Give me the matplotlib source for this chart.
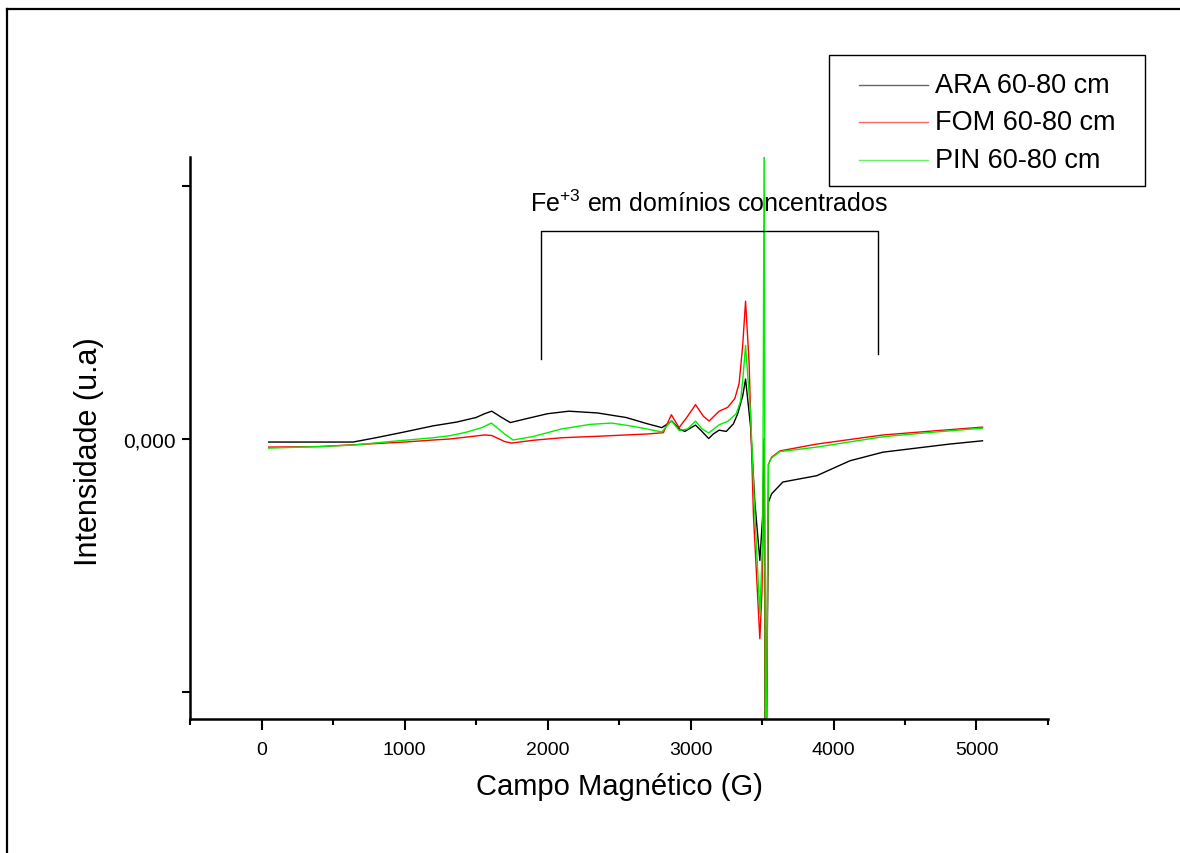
import matplotlib
matplotlib.use("Agg")
import matplotlib.pyplot as plt
from matplotlib.lines import Line2D
from matplotlib.patches import Rectangle
from matplotlib.ticker import MultipleLocator, FixedLocator

plt.rcParams['font.family'] = ['Liberation Sans', 'DejaVu Sans']
plt.rcParams['mathtext.default'] = 'regular'

# ---------------- data ----------------
series_names = ["ARA 60-80 cm", "FOM 60-80 cm", "PIN 60-80 cm"]
series_colors = ["#000000", "#FF0000", "#00EE00"]

ara_field = [50, 300, 640, 800, 1000, 1200, 1365, 1500, 1560, 1610, 1680, 1740, 1850,
             2000, 2150, 2350, 2550, 2700, 2800, 2840, 2870, 2920, 2960, 3035, 3080,
             3127, 3160, 3200, 3250, 3300, 3330, 3365, 3385, 3420, 3450, 3485, 3505,
             3515, 3525, 3545, 3567, 3646, 3883, 4115, 4346, 4579, 4812, 5042]
ara_int = [-0.012, -0.012, -0.012, 0.005, 0.028, 0.052, 0.067, 0.085, 0.1, 0.11, 0.085,
           0.065, 0.08, 0.1, 0.11, 0.103, 0.085, 0.06, 0.045, 0.06, 0.071, 0.04, 0.03,
           0.055, 0.03, 0.002, 0.02, 0.035, 0.03, 0.06, 0.1, 0.17, 0.237, 0.05, -0.25,
           -0.48, -0.3, 0.0, -1.6, -0.25, -0.217, -0.17, -0.145, -0.086, -0.052,
           -0.036, -0.02, -0.007]

fom_field = [50, 400, 800, 1000, 1200, 1316, 1500, 1556, 1610, 1700, 1750, 1900, 2100,
             2400, 2700, 2810, 2866, 2920, 2980, 3035, 3090, 3130, 3200, 3260, 3310,
             3340, 3365, 3385, 3410, 3440, 3485, 3500, 3515, 3525, 3545, 3567, 3625,
             3883, 4346, 4700, 5042]
fom_int = [-0.032, -0.03, -0.018, -0.012, -0.004, 0.0, 0.012, 0.016, 0.014, -0.01,
           -0.016, -0.005, 0.005, 0.012, 0.02, 0.025, 0.096, 0.045, 0.09, 0.136, 0.09,
           0.071, 0.11, 0.125, 0.16, 0.22, 0.37, 0.545, 0.3, -0.3, -0.79, -0.6, 0.0,
           -1.6, -0.1, -0.072, -0.047, -0.02, 0.016, 0.032, 0.047]

pin_field = [50, 400, 640, 900, 1200, 1316, 1433, 1540, 1608, 1700, 1760, 1900, 2100,
             2300, 2450, 2600, 2800, 2866, 2920, 2980, 3035, 3080, 3127, 3200, 3260,
             3320, 3350, 3368, 3385, 3420, 3450, 3485, 3505, 3515, 3525, 3545, 3567,
             3625, 3883, 4346, 4700, 5042]
pin_int = [-0.036, -0.03, -0.024, -0.01, 0.005, 0.013, 0.027, 0.045, 0.063, 0.02,
           -0.004, 0.01, 0.04, 0.058, 0.063, 0.05, 0.028, 0.073, 0.034, 0.04, 0.071,
           0.04, 0.024, 0.056, 0.07, 0.1, 0.15, 0.25, 0.37, 0.1, -0.3, -0.69, -0.4,
           1.2, -1.6, -0.1, -0.075, -0.05, -0.032, 0.009, 0.027, 0.043]

x_major_ticks = [0, 1000, 2000, 3000, 4000, 5000]
y_ticks = [-1.0, 0.0, 1.0]
y_tick_labels = ["", "0,000", ""]

annotation_text = r"Fe$^{+3}$ em domínios concentrados"
bracket_x = [1952, 4311]
bracket_top = 0.822
bracket_bottoms = [0.316, 0.336]

# ---------------- figure ----------------
W, H = 1180, 854
fig = plt.figure(figsize=(W / 100, H / 100), dpi=100)

def fx(px):
    return px / W

def fy(py):
    return 1 - py / H

ax = fig.add_axes([fx(190), fy(720), fx(1048) - fx(190), fy(158) - fy(720)])

fields = [ara_field, fom_field, pin_field]
ints = [ara_int, fom_int, pin_int]
for f, v, c, n in zip(fields, ints, series_colors, series_names):
    ax.plot(f, v, color=c, lw=1.0, label=n)

ax.set_xlim(-500, 5500)
ax.set_ylim(-1.107, 1.115)

for s in ['top', 'right']:
    ax.spines[s].set_visible(False)
for s in ['left', 'bottom']:
    ax.spines[s].set_linewidth(1.8)

ax.xaxis.set_major_locator(FixedLocator(x_major_ticks))
ax.xaxis.set_minor_locator(MultipleLocator(500))
ax.set_yticks(y_ticks)
ax.set_yticklabels(y_tick_labels)
ax.tick_params(axis='x', which='major', direction='out', length=8, width=1.5,
               labelsize=14, pad=8)
ax.tick_params(axis='x', which='minor', direction='out', length=4, width=1.5)
ax.tick_params(axis='y', which='major', direction='out', length=6, width=1.5,
               labelsize=15, pad=4)

ax.set_xlabel("Campo Magnético (G)", fontsize=21, labelpad=10)
ax.set_ylabel("Intensidade (u.a)", fontsize=22)
ax.yaxis.set_label_coords(fx(104), fy(452), transform=fig.transFigure)

# bracket annotation
ax.plot([bracket_x[0], bracket_x[0], bracket_x[1], bracket_x[1]],
        [bracket_bottoms[0], bracket_top, bracket_top, bracket_bottoms[1]],
        color='black', lw=1.0, clip_on=False)
ax.text(sum(bracket_x) / 2, bracket_top + 0.06, annotation_text, fontsize=18,
        ha='center', va='bottom')

# manual legend (box in figure coordinates)
fig.patches.append(Rectangle((fx(829), fy(187)), fx(1145) - fx(829), fy(56) - fy(187),
                             transform=fig.transFigure, fill=True, facecolor='white',
                             edgecolor='black', lw=1.0, zorder=5))
rows = [86, 123, 161]
for yrow, c, n in zip(rows, series_colors, series_names):
    fig.add_artist(Line2D([fx(859), fx(928)], [fy(yrow), fy(yrow)], color=c, lw=1.0,
                          alpha=0.6, zorder=6))
    fig.text(fx(935), fy(yrow), n, fontsize=19.5, va='center', ha='left', zorder=6)

# outer frame (top and left edges)
fig.add_artist(Line2D([fx(7), 1.0], [fy(10), fy(10)], color='black', lw=1.6))
fig.add_artist(Line2D([fx(7), fx(7)], [fy(10), 0.0], color='black', lw=1.6))

fig.savefig("out.png", dpi=100)
